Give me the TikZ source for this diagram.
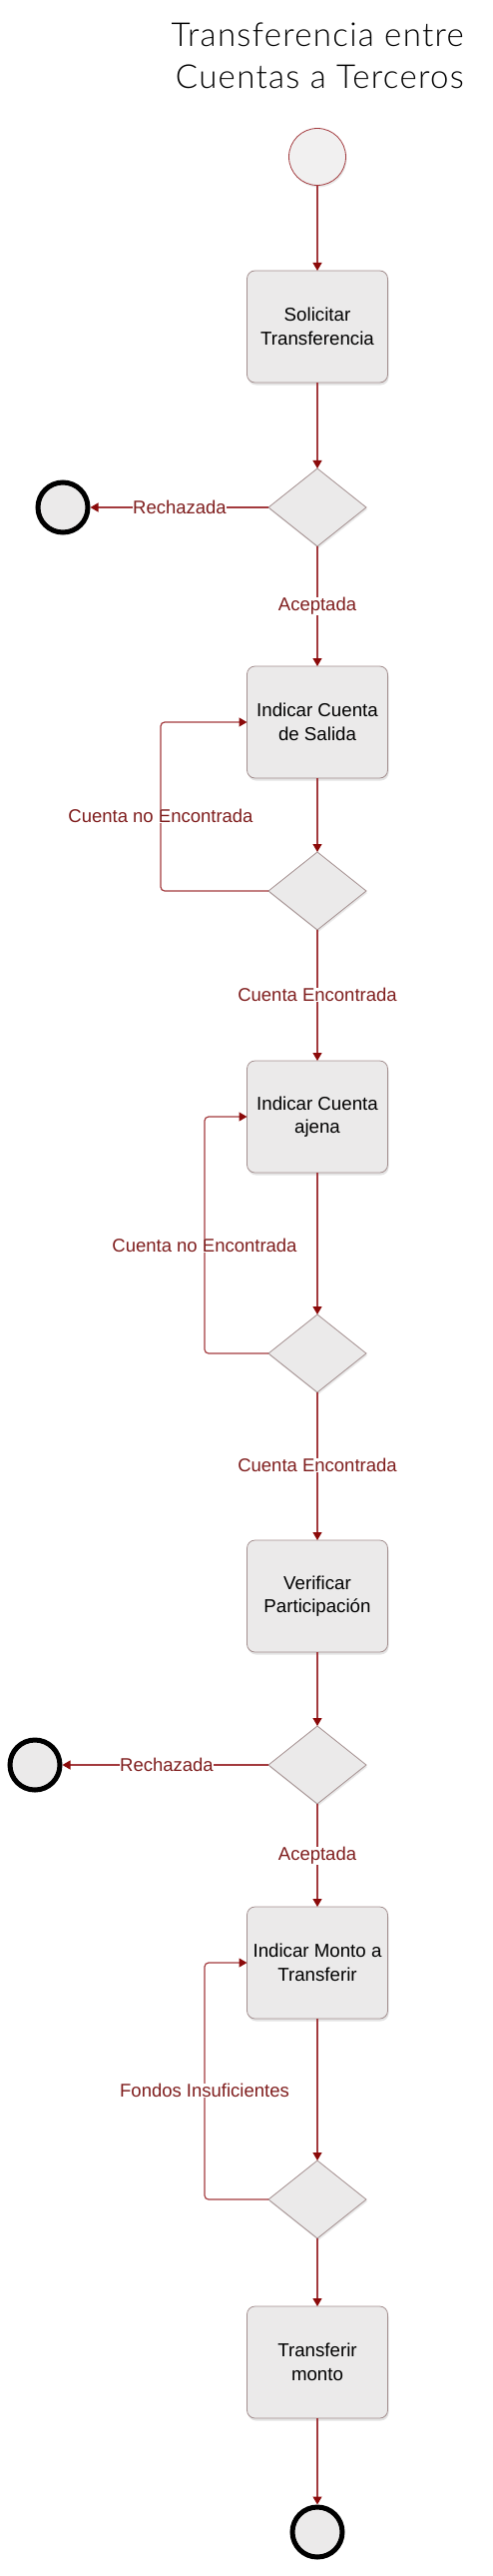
\documentclass[tikz,border=0pt]{standalone}
\usepackage{fontspec}
\setmainfont{Liberation Sans}
\newfontfamily\titlefont[LetterSpace=4]{Lato Light}
\usetikzlibrary{shapes.geometric,arrows.meta,shadows}
\definecolor{lnc}{HTML}{A33A3E}
\definecolor{arr}{HTML}{8B0A0A}
\definecolor{lbl}{HTML}{7F1D1D}
\definecolor{boxfill}{HTML}{EBEAEA}
\definecolor{boxdraw}{HTML}{A38E8E}
\begin{document}
\begin{tikzpicture}[x=1pt,y=-1pt,
  box/.style={draw=boxdraw, fill=boxfill, rounded corners=8pt, minimum width=141pt, minimum height=112pt,
    align=center, font=\fontsize{18.7}{23.5}\selectfont, inner sep=0pt, outer sep=0pt, line width=0.8pt,
    drop shadow={opacity=0.22, shadow xshift=1pt, shadow yshift=-2.5pt}},
  dec/.style={diamond, draw=boxdraw, fill=boxfill, minimum width=98pt, minimum height=78pt, aspect=1.256,
    inner sep=0pt, outer sep=0pt, line width=0.8pt,
    drop shadow={opacity=0.18, shadow xshift=1pt, shadow yshift=-2pt}},
  startc/.style={circle, draw=lnc, fill=boxfill!70!white, minimum size=57pt, inner sep=0pt, outer sep=0pt, line width=0.8pt,
    drop shadow={opacity=0.18, shadow xshift=1pt, shadow yshift=-2pt}},
  endc/.style={circle, draw=black, fill=boxfill, minimum size=50pt, inner sep=0pt, outer sep=2.5pt, line width=5pt,
    drop shadow={opacity=0.18, shadow xshift=1pt, shadow yshift=-2pt}},
  conn/.style={draw=lnc, line width=1.2pt, -{Triangle[width=9pt,length=8pt,color=arr]}},
  lab/.style={fill=white, text=lbl, font=\fontsize{18.5}{22}\selectfont, inner sep=0.6pt},
  ttl/.style={font=\titlefont\fontsize{33}{38}\selectfont, inner sep=0pt, anchor=base east}
]
\useasboundingbox (0,0) rectangle (494,2579);

\node[ttl] (t1) at (465,47) {Transferencia entre};
\node[ttl] (t2) at (465,89) {Cuentas a Terceros};

\node[startc] (start) at (318,157) {};
\node[box] (b1) at (318,327) {Solicitar\\Transferencia};
\node[dec] (d1) at (318,508) {};
\node[endc] (e1) at (63,508) {};
\node[box] (b2) at (318,723) {Indicar Cuenta\\de Salida};
\node[dec] (d2) at (318,892) {};
\node[box] (b3) at (318,1118) {Indicar Cuenta\\ajena};
\node[dec] (d3) at (318,1355) {};
\node[box] (b4) at (318,1598) {Verificar\\Participación};
\node[dec] (d4) at (318,1767) {};
\node[endc] (e2) at (35,1767) {};
\node[box] (b5) at (318,1965) {Indicar Monto a\\Transferir};
\node[dec] (d5) at (318,2202) {};
\node[box] (b6) at (318,2365) {Transferir\\monto};
\node[endc] (e3) at (318,2535) {};

\coordinate (k1) at (161,800);
\coordinate (k2) at (205,1240);
\coordinate (k3) at (205,2080);

\draw[conn] (start) -- (b1);
\draw[conn] (b1) -- (d1);
\draw[conn] (d1.west) -- (e1.east);
\draw[conn] (d1) -- (b2);
\draw[conn] (b2) -- (d2);
\draw[conn, rounded corners=4pt] (d2.west) -| (k1) |- (b2.west);
\draw[conn] (d2) -- (b3);
\draw[conn] (b3) -- (d3);
\draw[conn, rounded corners=4pt] (d3.west) -| (k2) |- (b3.west);
\draw[conn] (d3) -- (b4);
\draw[conn] (b4) -- (d4);
\draw[conn] (d4.west) -- (e2.east);
\draw[conn] (d4) -- (b5);
\draw[conn] (b5) -- (d5);
\draw[conn, rounded corners=4pt] (d5.west) -| (k3) |- (b5.west);
\draw[conn] (d5) -- (b6);
\draw[conn] (b6) -- (e3);

\node[lab] (l1) at (180,508) {Rechazada};
\node[lab] (l2) at (318,607) {Aceptada};
\node[lab] (l3) at (161,817) {Cuenta no Encontrada};
\node[lab] (l4) at (318,996) {Cuenta Encontrada};
\node[lab] (l5) at (205,1247) {Cuenta no Encontrada};
\node[lab] (l6) at (318,1467) {Cuenta Encontrada};
\node[lab] (l7) at (167,1767) {Rechazada};
\node[lab] (l8) at (318,1858) {Aceptada};
\node[lab] (l9) at (205,2093) {Fondos Insuficientes};
\end{tikzpicture}
\end{document}
